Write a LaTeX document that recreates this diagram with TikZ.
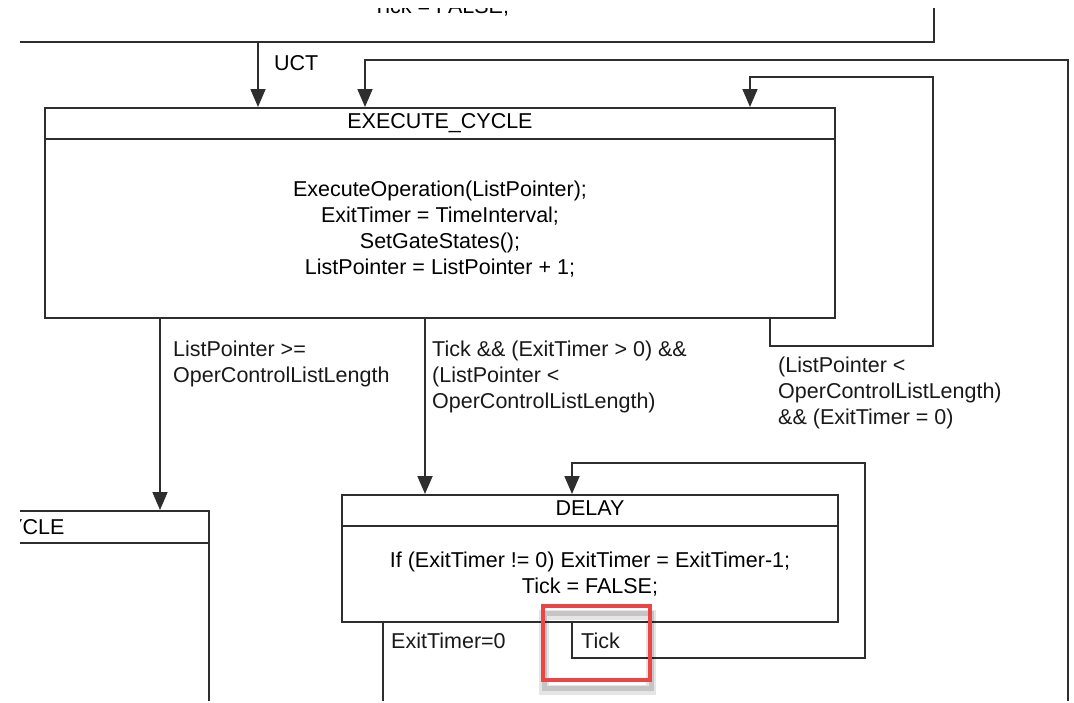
\documentclass[tikz,border=0pt]{standalone}
\usepackage{fontspec}
\setmainfont{Liberation Sans}
\usepackage{tikz}
\usetikzlibrary{arrows.meta,positioning,calc}
\definecolor{linegray}{rgb}{0.18,0.18,0.18}
\definecolor{marker}{rgb}{0.92,0.27,0.27}
\newcommand{\chartfont}{\fontsize{21.5}{26}\selectfont}
\tikzstyle{state}=[rectangle, draw=linegray, line width=2pt, inner sep=0pt]
\tikzstyle{wire}=[draw=linegray, line width=1.8pt]
\tikzstyle{arrowline}=[wire, -{Triangle[length=18pt,width=15pt]}]
\tikzstyle{guard}=[anchor=north west, align=left, inner sep=0pt, text=black!90]

\begin{document}
\begin{tikzpicture}[x=1pt, y=-1pt, font=\chartfont]
  \useasboundingbox (0,0) rectangle (1074,702);
  \begin{scope}
    \clip (20,8) rectangle (1072,700);
    % the states, the outer ones cut off by the page
    \node[state, minimum width=1000, minimum height=100, anchor=south east] (prev) at (935,43) {};
    \node[anchor=base] (prevtick) at (441,13) {Tick = FALSE;};
    \node[state, minimum width=790, minimum height=210] (exec) at (440,213) {};
    \draw[state] ([yshift=-32pt]exec.north west) -- ([yshift=-32pt]exec.north east);
    \node (execname) at ([yshift=-16pt]exec.north) {EXECUTE\_CYCLE};
    \node[align=center] (execbody) at (440,229) {ExecuteOperation(ListPointer);\\ExitTimer = TimeInterval;\\SetGateStates();\\ListPointer = ListPointer + 1;};
    \node[state, minimum width=300, minimum height=300, anchor=north east] (endcyc) at (210,510) {};
    \draw[state] ([yshift=-33pt]endcyc.north west) -- ([yshift=-33pt]endcyc.north east);
    \node[anchor=east] (endname) at ([xshift=-142pt,yshift=-17pt]endcyc.north east) {CYCLE};
    \node[state, minimum width=496, minimum height=127] (delay) at (590,558.5) {};
    \draw[state] ([yshift=-32pt]delay.north west) -- ([yshift=-32pt]delay.north east);
    \node (delayname) at ([yshift=-14pt]delay.north) {DELAY};
    \node[align=center] (delaybody) at (590,574) {If (ExitTimer != 0) ExitTimer = ExitTimer-1;\\Tick = FALSE;};
    % transitions
    \coordinate (uctsrc) at (258,43);
    \draw[arrowline] (uctsrc) -- (uctsrc |- exec.north);
    \node[anchor=west, inner sep=0pt] (uctlabel) at (274,63) {UCT};
    \coordinate (returnin) at (1068,705);
    \coordinate (returnturn) at (365,60);
    \draw[arrowline] (returnin) |- (returnturn) -- (returnturn |- exec.north);
    \coordinate (stayout) at ([xshift=330pt]exec.south);
    \coordinate (stayin) at ([xshift=310pt]exec.north);
    \draw[arrowline] (stayout) -- ++(0,27) -| (933,77) -| (stayin);
    \node[guard] (stayguard) at (778,357) {(ListPointer <\\OperControlListLength)\\\&\& (ExitTimer = 0)};
    \coordinate (doneout) at ([xshift=-280pt]exec.south);
    \draw[arrowline] (doneout) -- (doneout |- endcyc.north);
    \node[guard] (doneguard) at (173,341) {ListPointer >=\\OperControlListLength};
    \coordinate (tickout) at ([xshift=-15pt]exec.south);
    \draw[arrowline] (tickout) -- (tickout |- delay.north);
    \node[guard] (tickguard) at (432,341) {Tick \&\& (ExitTimer > 0) \&\&\\(ListPointer <\\OperControlListLength)};
    \coordinate (waitout) at ([xshift=-18pt]delay.south);
    \coordinate (waitin) at ([xshift=-18pt]delay.north);
    \draw[arrowline] (waitout) -- ++(0,35) -| (865,463) -| (waitin);
    \node[guard] (waitguard) at (581,633) {Tick};
    \coordinate (timeout) at ([xshift=-207pt]delay.south);
    \draw[wire] (timeout) -- ++(0,85);
    \node[guard] (timeguard) at (391,633) {ExitTimer=0};
    % highlight round the Tick guard
    \draw[black, line width=10pt, opacity=.10] (544,615) rectangle (651,690);
    \draw[black, line width=5pt, opacity=.14] (544,613) rectangle (651,688);
    \node[draw=marker, line width=4pt, minimum width=107, minimum height=74, inner sep=0pt] (tickmark) at (596.5,643) {};
  \end{scope}
\end{tikzpicture}
\end{document}
